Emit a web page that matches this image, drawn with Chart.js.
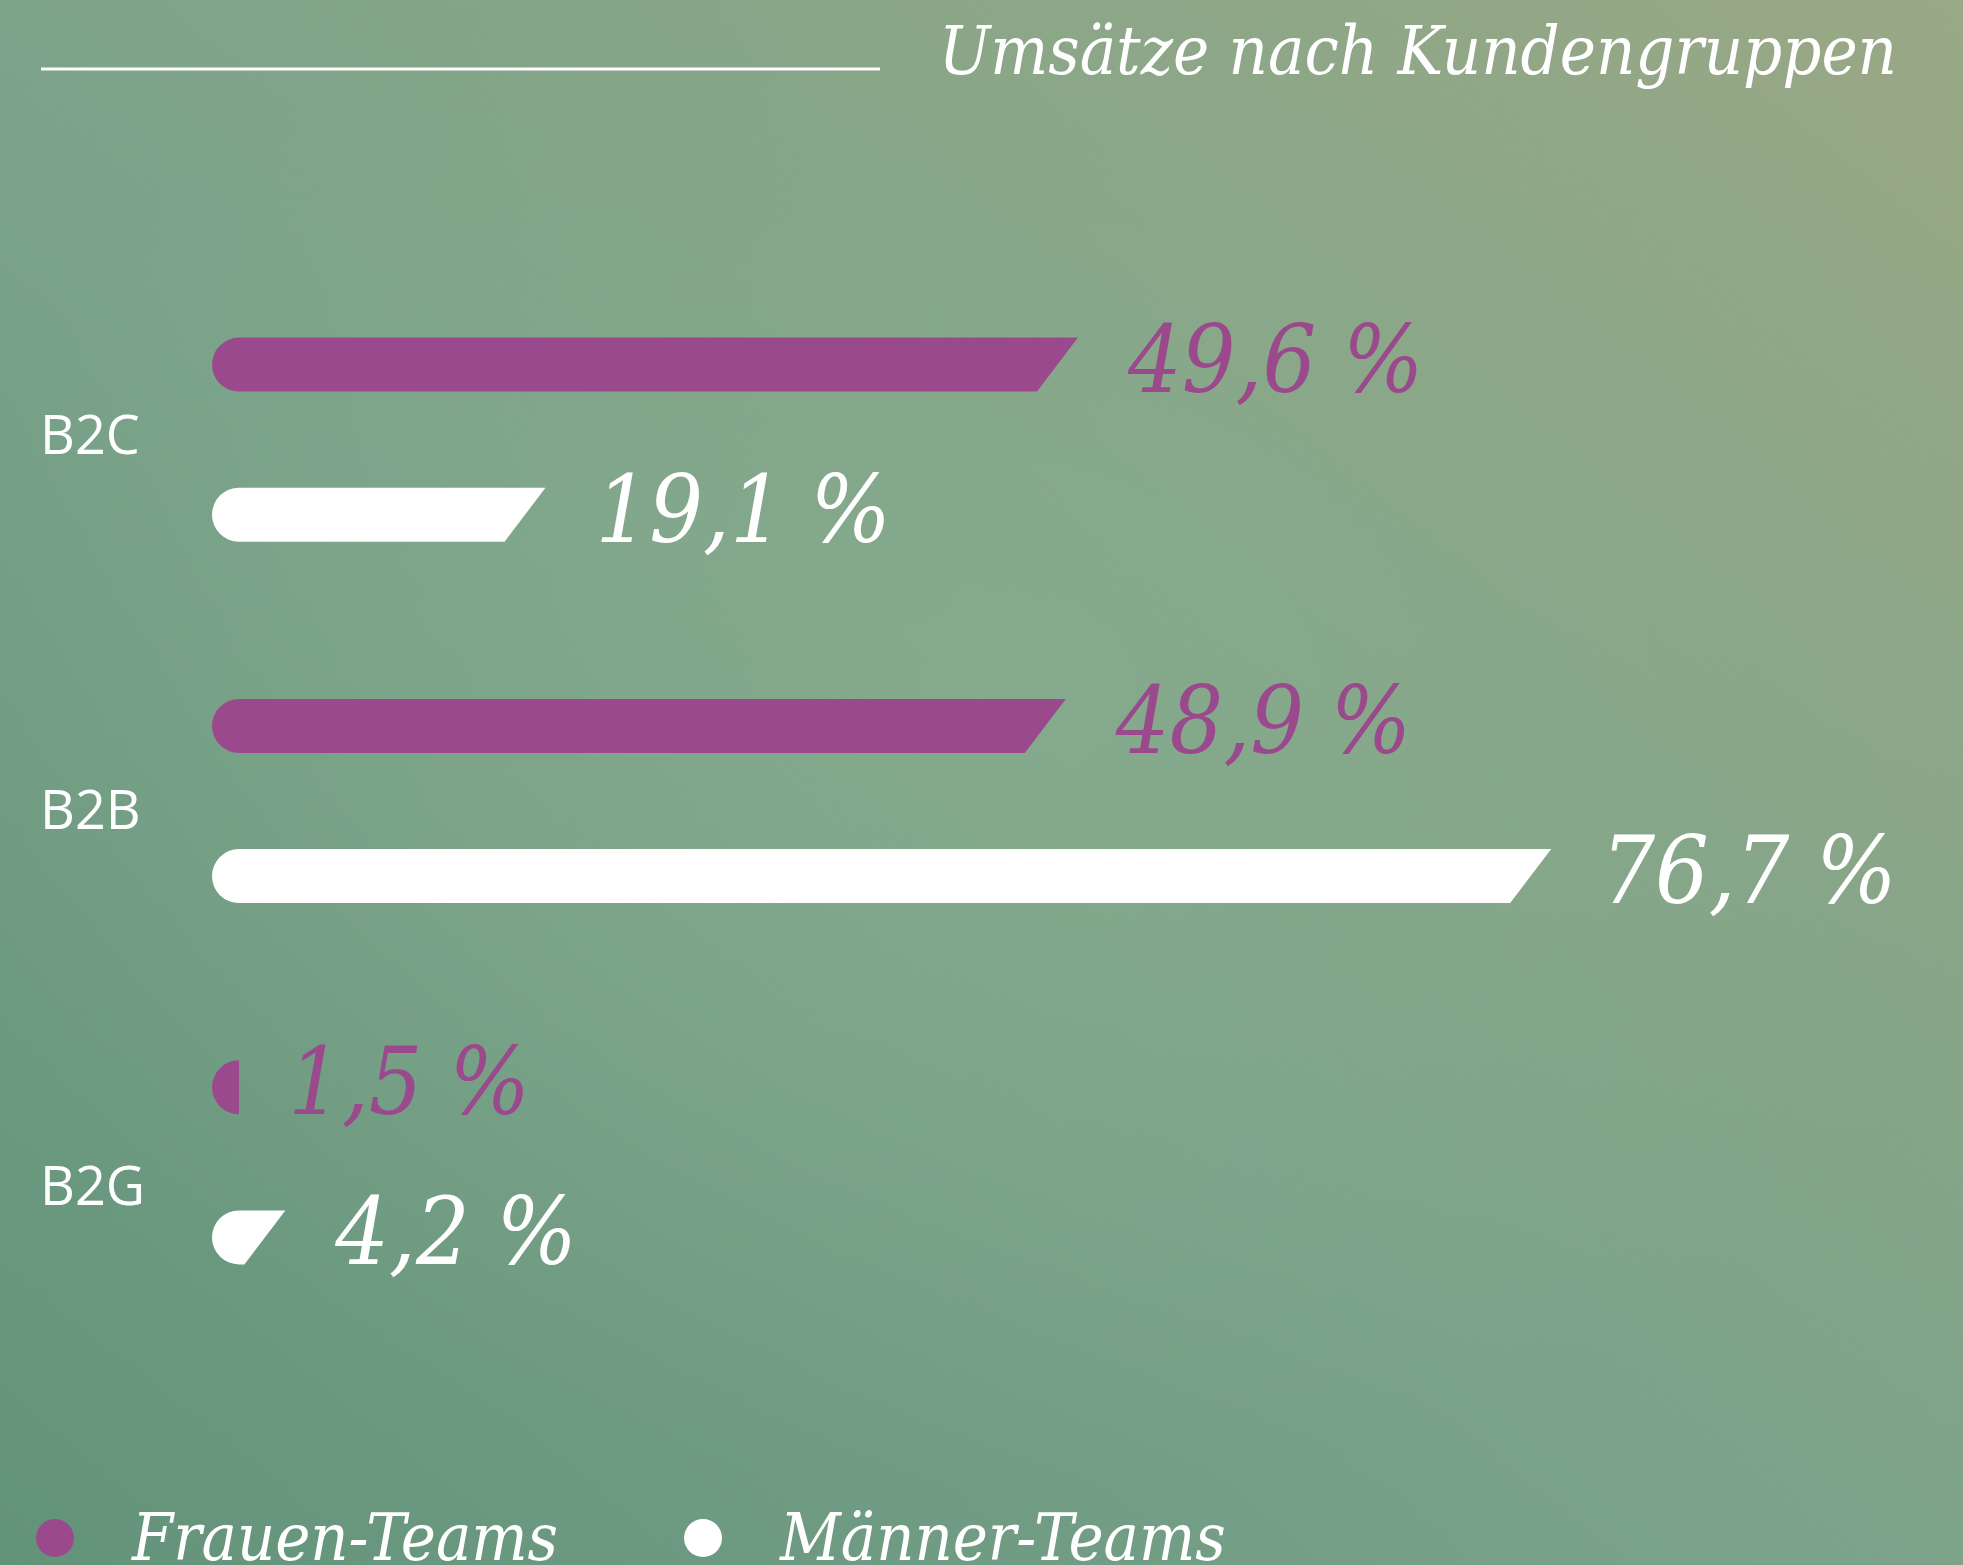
<!DOCTYPE html>
<html lang="de">
<head>
<meta charset="utf-8">
<title>Umsätze nach Kundengruppen</title>
<script src="https://cdn.jsdelivr.net/npm/chart.js@4/dist/chart.umd.min.js"></script>
<style>
  html, body { margin: 0; padding: 0; overflow: hidden; }
  body {
    width: 1963px; height: 1565px; position: relative;
    background:
      radial-gradient(ellipse 55% 50% at 50% 45%, rgba(138, 176, 142, 0.55), rgba(138, 176, 142, 0) 100%),
      linear-gradient(to top right, #5f9277 0%, #79a389 45%, #9ba984 100%);
  }
  .grain {
    position: absolute; inset: 0; opacity: .28; pointer-events: none;
    background-image: url("data:image/svg+xml;utf8,<svg xmlns='http://www.w3.org/2000/svg' width='400' height='400'><filter id='n'><feTurbulence type='fractalNoise' baseFrequency='0.9' numOctaves='2' stitchTiles='stitch'/><feColorMatrix values='0 0 0 0 0.25  0 0 0 0 0.35  0 0 0 0 0.3  0 0 0 0.6 0'/></filter><rect width='400' height='400' filter='url(%23n)'/></svg>");
  }
  canvas { position: absolute; left: 0; top: 0; }
</style>
</head>
<body>
<div class="grain"></div>
<canvas id="chart" width="1963" height="1565"></canvas>
<script>
(function () {
    'use strict';

    /* ── Data ───────────────────────────────────────────────────────────── */
    const categories = ['B2C', 'B2B', 'B2G'];
    const frauenTeams = [49.6, 48.9, 1.5];
    const maennerTeams = [19.1, 76.7, 4.2];
    const seriesLabels = ['Frauen-Teams', 'Männer-Teams'];
    const title = 'Umsätze nach Kundengruppen';

    /* ── Look ───────────────────────────────────────────────────────────── */
    const PURPLE = '#9a4a8c';
    const WHITE = '#ffffff';
    const SERIF = '"DejaVu Serif Condensed", "DejaVu Serif", serif';
    const SANS = '"Open Sans", "Noto Sans", sans-serif';
    const SLANT = 41;

    const fmt = (v) => v.toFixed(1).replace('.', ',') + ' %';

    // rounded left cap, slanted right end
    function barShape(ctx, x0, x1, yc, h) {
        const r = h / 2;
        const top = yc - r, bot = yc + r;
        const tx = Math.max(x1, x0 + r);
        const bx = Math.max(x1 - SLANT, x0 + r);
        ctx.beginPath();
        ctx.moveTo(x0 + r, bot);
        ctx.arc(x0 + r, yc, r, Math.PI / 2, Math.PI * 1.5);
        ctx.lineTo(tx, top);
        ctx.lineTo(bx, bot);
        ctx.closePath();
        ctx.fill();
    }

    const slantBars = {
        id: 'slantBars',
        beforeDatasetDraw(chart, args) {
            const ctx = chart.ctx;
            const ds = chart.data.datasets[args.index];
            ctx.save();
            ctx.fillStyle = ds.backgroundColor;
            ctx.font = 'italic 94px ' + SERIF;
            ctx.textAlign = 'left';
            ctx.textBaseline = 'alphabetic';
            args.meta.data.forEach((el, i) => {
                const p = el.getProps(['x', 'y', 'base', 'height'], true);
                barShape(ctx, p.base, p.x, p.y, p.height);
                ctx.fillText(fmt(ds.data[i]), p.x + 50, p.y + p.height / 2);
            });
            ctx.restore();
            return false;
        }
    };

    const decorations = {
        id: 'decorations',
        afterDraw(chart) {
            const ctx = chart.ctx;
            const yScale = chart.scales.y;
            ctx.save();

            // header rule + title
            ctx.strokeStyle = WHITE;
            ctx.lineWidth = 3;
            ctx.beginPath();
            ctx.moveTo(41, 69);
            ctx.lineTo(880, 69);
            ctx.stroke();
            ctx.fillStyle = WHITE;
            ctx.font = 'italic 68px ' + SERIF;
            ctx.textAlign = 'right';
            ctx.textBaseline = 'alphabetic';
            ctx.fillText(title, 1897, 74);

            // category labels
            ctx.font = '54px ' + SANS;
            ctx.textAlign = 'left';
            ctx.textBaseline = 'middle';
            categories.forEach((c, i) => {
                ctx.fillText(c, 40, yScale.getPixelForValue(i) - 1 + i * 14);
            });

            // legend
            ctx.font = 'italic 66px ' + SERIF;
            ctx.textBaseline = 'alphabetic';
            let x = 36;
            chart.data.datasets.forEach((ds) => {
                ctx.fillStyle = ds.backgroundColor;
                ctx.beginPath();
                ctx.arc(x + 19, 1538, 19, 0, Math.PI * 2);
                ctx.fill();
                ctx.fillStyle = WHITE;
                ctx.fillText(ds.label, x + 96, 1560);
                x += 96 + ctx.measureText(ds.label).width + 126;
            });
            ctx.restore();
        }
    };

    new Chart(document.getElementById('chart'), {
        type: 'bar',
        data: {
            labels: categories,
            datasets: [
                { label: seriesLabels[0], data: frauenTeams, backgroundColor: PURPLE },
                { label: seriesLabels[1], data: maennerTeams, backgroundColor: WHITE }
            ]
        },
        options: {
            indexAxis: 'y',
            responsive: false,
            animation: false,
            devicePixelRatio: 1,
            categoryPercentage: 0.831,
            barPercentage: 0.36,
            layout: { padding: { left: 212, right: 5, top: 259, bottom: 222 } },
            plugins: {
                legend: { display: false },
                title: { display: false },
                tooltip: { enabled: false }
            },
            scales: {
                x: { display: false, min: 0, max: 100 },
                y: { display: false }
            }
        },
        plugins: [slantBars, decorations]
    });
})();
</script>
</body>
</html>
